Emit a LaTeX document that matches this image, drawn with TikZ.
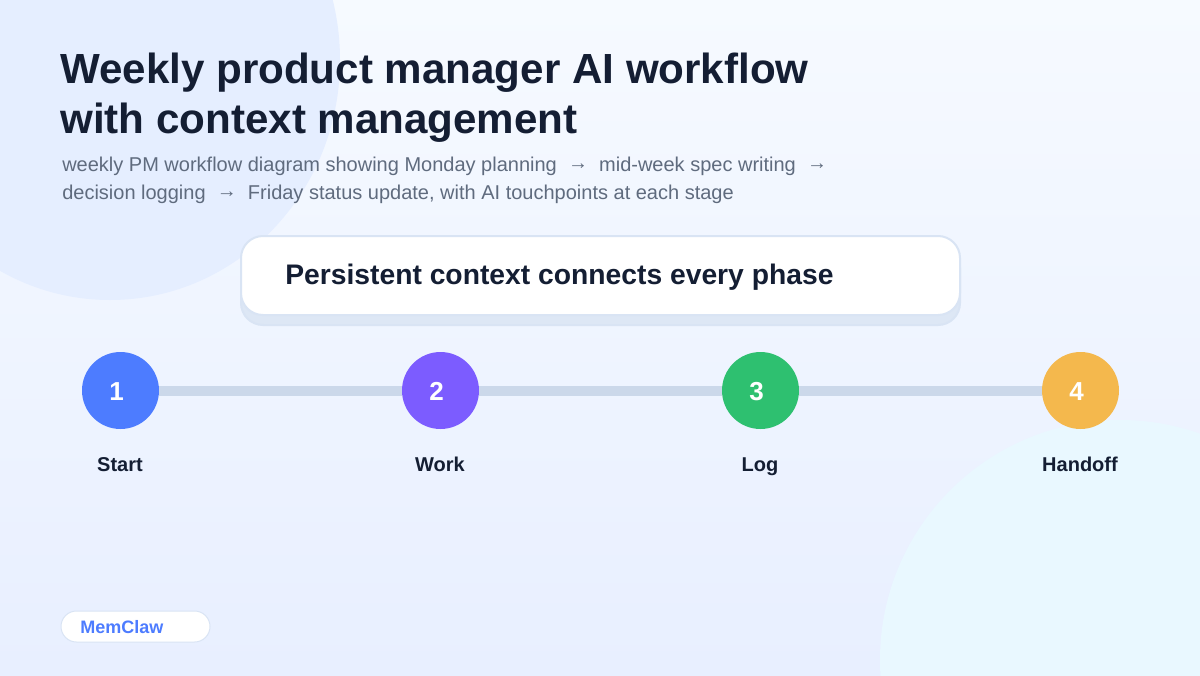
\documentclass[tikz,border=0pt]{standalone}
\usepackage{fontspec}
\setmainfont{Liberation Sans}

\definecolor{pagetop}{HTML}{F6FAFF}
\definecolor{pagebottom}{HTML}{E8EFFF}
\definecolor{blobblue}{HTML}{E5EEFF}
\definecolor{blobcyan}{HTML}{E9F8FF}
\definecolor{ink}{HTML}{141E33}
\definecolor{subgrey}{HTML}{5F6B7E}
\definecolor{rail}{HTML}{CBD8EA}
\definecolor{edge}{HTML}{D9E4F4}
\definecolor{under}{HTML}{DDE7F5}
\definecolor{memblue}{HTML}{4D7CFF}
\definecolor{stepblue}{HTML}{4D7CFF}
\definecolor{steppurple}{HTML}{7C5CFF}
\definecolor{stepgreen}{HTML}{2EC070}
\definecolor{stepamber}{HTML}{F4B84D}

\newcommand{\subarrow}{\ \ \raisebox{1pt}{→}\ \ }

\tikzset{
  txt/.style={inner sep=0pt,anchor=base west},
  stepdot/.style={circle,inner sep=0pt,minimum size=57.75pt},
  stepnum/.style={inner sep=0pt,anchor=base,white,font=\fontsize{19.5}{24}\selectfont\bfseries},
  steplabel/.style={inner sep=0pt,anchor=base,ink,font=\fontsize{15}{18}\selectfont\bfseries}
}

\begin{document}
\begin{tikzpicture}[x=0.75pt,y=-0.75pt]
\useasboundingbox (0,0) rectangle (1200,675);
\shade[top color=pagetop,bottom color=pagebottom] (0,0) rectangle (1200,675);

\fill[blobblue] (110,60) ellipse (230 and 240);
\fill[blobcyan] (1120,660) circle (240);

\node[txt,ink,font=\fontsize{31.6}{40}\selectfont\bfseries] (title1) at (60,83) {Weekly product manager AI workflow};
\node[txt,ink,font=\fontsize{31.6}{40}\selectfont\bfseries] (title2) at (60,133) {with context management};
\node[txt,subgrey,font=\fontsize{15}{18}\selectfont] (sub1) at (62,171) {weekly PM workflow diagram showing Monday planning\subarrow mid-week spec writing\subarrow};
\node[txt,subgrey,font=\fontsize{15}{18}\selectfont] (sub2) at (62,199) {decision logging\subarrow Friday status update, with AI touchpoints at each stage};

\draw[line width=1.5pt,draw=edge,fill=under,rounded corners=16.5pt] (241,246) rectangle (960,325);
\draw[line width=1.5pt,draw=edge,fill=white,rounded corners=16.5pt] (241,236) rectangle (960,315);
\node[txt,ink,font=\fontsize{21.2}{26}\selectfont\bfseries] (context) at (285,284) {Persistent context connects every phase};

\node[stepdot,fill=stepblue] (s1) at (120.5,390.5) {};
\node[stepdot,fill=steppurple] (s2) at (440.5,390.5) {};
\node[stepdot,fill=stepgreen] (s3) at (760.5,390.5) {};
\node[stepdot,fill=stepamber] (s4) at (1080.5,390.5) {};

\draw[line width=7.5pt,rail] (s1.east) -- (s2.west);
\draw[line width=7.5pt,rail] (s2.east) -- (s3.west);
\draw[line width=7.5pt,rail] (s3.east) -- (s4.west);

\node[stepnum] (n1) at (116.5,400) {1};
\node[stepnum] (n2) at (436.5,400) {2};
\node[stepnum] (n3) at (756.5,400) {3};
\node[stepnum] (n4) at (1076.5,400) {4};

\node[steplabel] (l1) at (120,471) {Start};
\node[steplabel] (l2) at (440,471) {Work};
\node[steplabel] (l3) at (760,471) {Log};
\node[steplabel] (l4) at (1080,471) {Handoff};

\draw[line width=0.75pt,draw=edge,fill=white,rounded corners=11.6pt] (61,611) rectangle (210,642);
\node[txt,memblue,font=\fontsize{13.5}{16}\selectfont\bfseries] (brand) at (80,633) {MemClaw};
\end{tikzpicture}
\end{document}
